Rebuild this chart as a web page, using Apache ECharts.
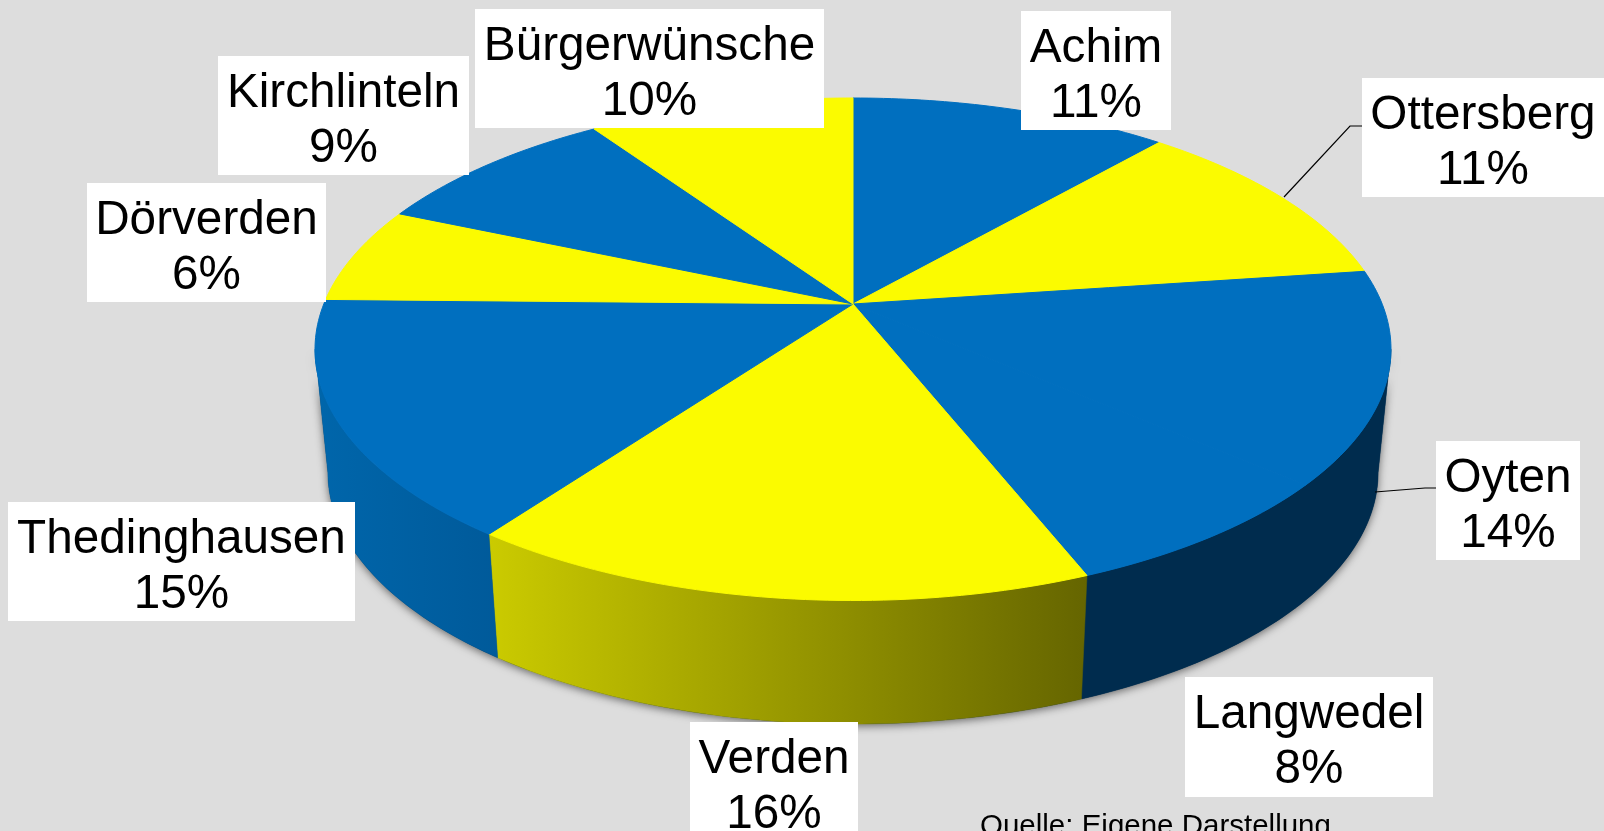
<!DOCTYPE html>
<html>
<head>
<meta charset="utf-8">
<title>Verteilung</title>
<style>
  html, body { margin: 0; padding: 0; background: #dddddd; overflow: hidden; }
  #chart { width: 1604px; height: 831px; }
</style>
<script src="https://cdn.jsdelivr.net/npm/echarts@6/dist/echarts.min.js"></script>
</head>
<body>
<div id="chart"></div>
<script>
// Daten: im Uhrzeigersinn ab 12 Uhr, Werte aus dem Bild geschaetzt (Beschriftung = gerundet)
const categories = ['Achim', 'Ottersberg', 'Oyten', 'Langwedel', 'Verden', 'Thedinghausen', 'Dörverden', 'Kirchlinteln', 'Bürgerwünsche'];
const shares = [11.4, 11.4, 13.6, 7.6, 16.0, 15.3, 6.2, 9.0, 9.5];
const sourceNote = 'Quelle: Eigene Darstellung';

// Farben
const BLUE = '#006fbf';
const YELLOW = '#fbfb00';
const topColors = [BLUE, YELLOW, BLUE, BLUE, YELLOW, BLUE, YELLOW, BLUE, YELLOW];
const sideColors = [
  ['#00304f', '#00304f'], ['#6a6a00', '#6a6a00'], ['#002c4e', '#002c4e'], ['#002c4e', '#002c4e'],
  ['#cbcb00', '#656500'], ['#0066ab', '#005a9a'], ['#cbcb00', '#cbcb00'], ['#0066ab', '#0066ab'], ['#6a6a00', '#6a6a00']
];

// Layout der Beschriftungen [x, y, Breite, Hoehe]
const labelBoxes = [
  [1021, 11, 150, 119], [1362, 78, 242, 119], [1436, 441, 144, 119],
  [1185, 677, 248, 120], [690, 722, 168, 121], [8, 502, 347, 119],
  [87, 183, 239, 119], [218, 56, 251, 119], [475, 9, 349, 119]
];
// Fuehrungslinien
const leaderLines = [
  [[1284, 197], [1350, 126], [1362, 126]],
  [[1375, 492], [1425, 488], [1436, 488]]
];

// Perspektive der Scheibe
const CX = 853, CY = 304, RX = 529.2, RY = 243.1, K = 0.1801;
const DEPTH = 123.5, BOTTOM_SCALE = 0.976;
// sichtbarer Bereich der Seitenwand (Tangenten links/rechts)
const SIDE_FROM = Math.acos(-K), SIDE_TO = Math.PI * 2 - SIDE_FROM;

function project(angle, lower) {
  const u = Math.sin(angle), v = -Math.cos(angle);
  const w = 1 - K * v;
  const s = lower ? BOTTOM_SCALE : 1;
  return [CX + RX * s * u / w, CY + RY * v / w + (lower ? DEPTH : 0)];
}

function rim(from, to, lower) {
  const n = Math.max(2, Math.ceil((to - from) / (Math.PI / 180)));
  const pts = [];
  for (let i = 0; i <= n; i++) {
    pts.push(project(from + (to - from) * i / n, lower));
  }
  return pts;
}

function band(from, to) {
  return rim(from, to, false).concat(rim(from, to, true).reverse());
}

const total = shares.reduce((a, b) => a + b, 0);
const startAngles = [];
shares.reduce((sum, v, i) => {
  startAngles[i] = sum / total * Math.PI * 2;
  return sum + v;
}, 0);
const endAngle = i => (i + 1 < shares.length ? startAngles[i + 1] : Math.PI * 2);

const myChart = echarts.init(document.getElementById('chart'));
const option = {
  backgroundColor: '#dddddd',
  animation: false,
  title: {
    text: sourceNote,
    left: 980,
    top: 812,
    padding: 0,
    textStyle: { fontFamily: 'Liberation Sans', fontSize: 29.5, fontWeight: 'normal', color: '#000' }
  },
  series: [
    // Schatten unter der Scheibe
    {
      type: 'custom',
      coordinateSystem: 'none',
      silent: true,
      data: [0],
      renderItem: () => ({
        type: 'polygon',
        shape: { points: band(SIDE_FROM, SIDE_TO) },
        style: { fill: '#002c4e', shadowBlur: 9, shadowColor: 'rgba(0,0,0,0.55)', shadowOffsetX: 0, shadowOffsetY: 2 }
      })
    },
    // Seitenflaechen, nur der sichtbare Teil
    {
      type: 'custom',
      coordinateSystem: 'none',
      silent: true,
      data: shares,
      renderItem: params => {
        const i = params.dataIndex;
        const from = Math.max(startAngles[i], SIDE_FROM), to = Math.min(endAngle(i), SIDE_TO);
        if (to <= from) return null;
        const fill = new echarts.graphic.LinearGradient(0, 0, 1, 0, [
          { offset: 0, color: sideColors[i][0] },
          { offset: 1, color: sideColors[i][1] }
        ]);
        return { type: 'polygon', shape: { points: band(from, to) }, style: { fill, stroke: fill, lineWidth: 0.5 } };
      }
    },
    // Deckflaeche
    {
      type: 'custom',
      coordinateSystem: 'none',
      silent: true,
      data: shares,
      renderItem: params => {
        const i = params.dataIndex;
        const points = [[CX, CY]].concat(rim(startAngles[i], endAngle(i), false));
        return { type: 'polygon', shape: { points }, style: { fill: topColors[i], stroke: topColors[i], lineWidth: 1 } };
      }
    },
    // Fuehrungslinien
    {
      type: 'custom',
      coordinateSystem: 'none',
      silent: true,
      data: leaderLines.map((_, i) => i),
      renderItem: params => ({
        type: 'polyline',
        shape: { points: leaderLines[params.dataIndex] },
        style: { fill: null, stroke: '#000', lineWidth: 1.2 }
      })
    },
    // Beschriftungen
    {
      type: 'custom',
      coordinateSystem: 'none',
      silent: true,
      data: shares,
      renderItem: params => {
        const i = params.dataIndex;
        const [x, y, w, h] = labelBoxes[i];
        return {
          type: 'group',
          children: [
            { type: 'rect', shape: { x, y, width: w, height: h }, style: { fill: '#fff' } },
            {
              type: 'text',
              style: {
                x: x + w / 2,
                y: y + 65,
                text: categories[i] + '\n' + Math.round(shares[i]) + '%',
                fontFamily: 'Liberation Sans',
                fontSize: 47.7,
                lineHeight: 55,
                fill: '#000',
                align: 'center',
                verticalAlign: 'middle'
              }
            }
          ]
        };
      }
    }
  ]
};
myChart.setOption(option);
</script>
</body>
</html>
